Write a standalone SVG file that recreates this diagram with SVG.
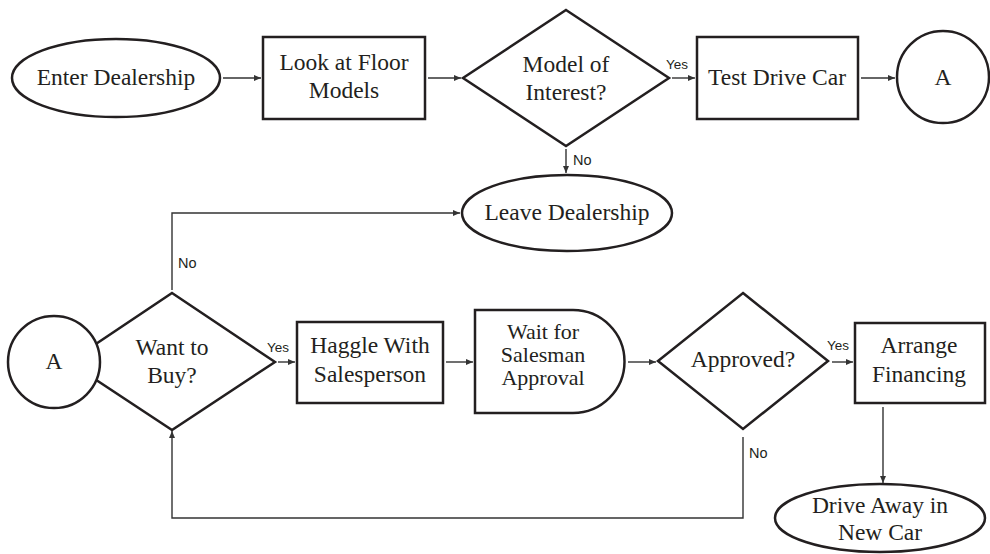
<svg xmlns="http://www.w3.org/2000/svg" width="990" height="554" viewBox="0 0 990 554">
<defs>
<style>
.shape{fill:#ffffff;stroke:#231f20;stroke-width:2.5}
.conn{fill:none;stroke:#333333;stroke-width:1.4}
.t{font-family:'Liberation Serif','DejaVu Serif',serif;font-size:23.5px;fill:#231f20;text-anchor:middle}
.t2{font-size:22px}
.lbl{font-family:'Liberation Sans','DejaVu Sans',sans-serif;font-size:14.5px;fill:#231f20}
.yes{font-size:13.5px}
</style>
<marker id="arr" markerUnits="userSpaceOnUse" markerWidth="8" markerHeight="7" refX="7" refY="3.5" orient="auto">
<path d="M0,0.5 L7,3.5 L0,6.5 z" fill="#333333"/>
</marker>
</defs>
<rect width="990" height="554" fill="#ffffff"/>

<g id="connectors">
<path class="conn" d="M223,78 H261" marker-end="url(#arr)"/>
<path class="conn" d="M428,78 H461" marker-end="url(#arr)"/>
<path class="conn" d="M672,78 H695" marker-end="url(#arr)"/>
<path class="conn" d="M861,78 H895" marker-end="url(#arr)"/>
<path class="conn" d="M566,149 V173" marker-end="url(#arr)"/>
<path class="conn" d="M172,290 V213 H460" marker-end="url(#arr)"/>
<path class="conn" d="M278,362 H295" marker-end="url(#arr)"/>
<path class="conn" d="M446,362 H473" marker-end="url(#arr)"/>
<path class="conn" d="M628,362 H656" marker-end="url(#arr)"/>
<path class="conn" d="M832,362 H853" marker-end="url(#arr)"/>
<path class="conn" d="M883,407 V483" marker-end="url(#arr)"/>
<path class="conn" d="M743,437 V518 H172 V431" marker-end="url(#arr)"/>
<text class="lbl yes" x="666" y="69">Yes</text>
<text class="lbl" x="573" y="165">No</text>
<text class="lbl" x="178" y="268">No</text>
<text class="lbl yes" x="267" y="352">Yes</text>
<text class="lbl yes" x="827" y="350">Yes</text>
<text class="lbl" x="749" y="458">No</text>
</g>

<g id="enter">
<ellipse class="shape" cx="116" cy="78" rx="104" ry="39"/>
<text class="t" x="116" y="85">Enter Dealership</text>
</g>

<g id="look">
<rect class="shape" x="263" y="37" width="162" height="82"/>
<text class="t" x="344" y="70">Look at Floor</text>
<text class="t" x="344" y="98">Models</text>
</g>

<g id="model">
<polygon class="shape" points="566,10 669,78 566,146 463,78"/>
<text class="t" x="566" y="72">Model of</text>
<text class="t" x="566" y="100">Interest?</text>
</g>

<g id="test">
<rect class="shape" x="697" y="37" width="161" height="82"/>
<text class="t" x="777" y="85">Test Drive Car</text>
</g>

<g id="a-top">
<circle class="shape" cx="943" cy="77" r="46"/>
<text class="t" x="943" y="85">A</text>
</g>

<g id="leave">
<ellipse class="shape" cx="567" cy="213" rx="105" ry="38"/>
<text class="t" x="567" y="220">Leave Dealership</text>
</g>

<g id="want">
<polygon class="shape" points="172,293 275,362 172,430 69,362"/>
<text class="t" x="172" y="355">Want to</text>
<text class="t" x="172" y="383">Buy?</text>
</g>

<g id="a-bottom">
<circle class="shape" cx="54" cy="362" r="46"/>
<text class="t" x="54" y="369">A</text>
</g>

<g id="haggle">
<rect class="shape" x="297" y="322" width="146" height="81"/>
<text class="t" x="370" y="353">Haggle With</text>
<text class="t" x="370" y="382">Salesperson</text>
</g>

<g id="wait">
<path class="shape" d="M475,310 H573 A51.5,51.5 0 0 1 573,413 H475 Z"/>
<text class="t t2" x="543" y="339">Wait for</text>
<text class="t t2" x="543" y="362">Salesman</text>
<text class="t t2" x="543" y="385">Approval</text>
</g>

<g id="approved">
<polygon class="shape" points="743,293 828,361 743,429 658,361"/>
<text class="t" x="743" y="367">Approved?</text>
</g>

<g id="arrange">
<rect class="shape" x="855" y="323" width="130" height="80"/>
<text class="t" x="919" y="353">Arrange</text>
<text class="t" x="919" y="382">Financing</text>
</g>

<g id="drive">
<ellipse class="shape" cx="880" cy="518" rx="105" ry="34"/>
<text class="t" x="880" y="513">Drive Away in</text>
<text class="t" x="880" y="540">New Car</text>
</g>
</svg>
